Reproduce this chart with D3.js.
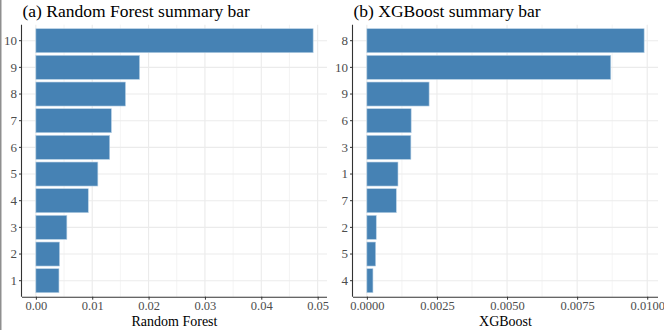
<!DOCTYPE html>
<html>
<head>
<meta charset="utf-8">
<script src="https://cdn.jsdelivr.net/npm/d3@7"></script>
<style>
  html, body { margin: 0; padding: 0; background: #fff; }
  svg { display: block; font-family: "Liberation Serif", "Times New Roman", serif; }
  .tick text { font-family: "Liberation Serif", "Times New Roman", serif; }
</style>
</head>
<body>
<svg id="chart" width="664" height="330"></svg>
<script>
// ---- Data ----
const rfCategories = ["10", "9", "8", "7", "6", "5", "4", "3", "2", "1"];
const rfValues = [0.0492, 0.0184, 0.0159, 0.0134, 0.0131, 0.0110, 0.0093, 0.0055, 0.0042, 0.0041];
const rfTicks = [0, 0.01, 0.02, 0.03, 0.04, 0.05];
const rfTickLabels = ["0.00", "0.01", "0.02", "0.03", "0.04", "0.05"];

const xgbCategories = ["8", "10", "9", "6", "3", "1", "7", "2", "5", "4"];
const xgbValues = [0.00989, 0.00870, 0.00222, 0.00158, 0.00157, 0.00111, 0.00105, 0.000335, 0.000313, 0.000217];
const xgbTicks = [0, 0.0025, 0.005, 0.0075, 0.01];
const xgbTickLabels = ["0.0000", "0.0025", "0.0050", "0.0075", "0.0100"];

const panels = [
  { title: "(a) Random Forest summary bar", axisTitle: "Random Forest",
    cats: rfCategories, vals: rfValues, ticks: rfTicks, tickLabels: rfTickLabels,
    x0: 22, x1: 327 },
  { title: "(b) XGBoost summary bar", axisTitle: "XGBoost",
    cats: xgbCategories, vals: xgbValues, ticks: xgbTicks, tickLabels: xgbTickLabels,
    x0: 353, x1: 658 }
];

const svg = d3.select("#chart");
const yTop = 24.7, yBot = 296.7;
const barColor = "#4682B4";
const serif = '"Liberation Serif", "Times New Roman", serif';

// left border line seen in reference
svg.append("rect").attr("x", 0).attr("y", 0).attr("width", 1.5).attr("height", 330).attr("fill", "#8f8f8f");

panels.forEach(p => {
  const g = svg.append("g");
  const maxV = d3.max(p.vals);
  const x = d3.scaleLinear().domain([-0.05 * maxV, 1.05 * maxV]).range([p.x0, p.x1]);
  const y = d3.scaleBand().domain(p.cats).range([yTop, yBot]).paddingInner(0.1).paddingOuter(0.15);

  // minor gridlines
  const minor = [];
  for (let i = 0; i < p.ticks.length - 1; i++) minor.push((p.ticks[i] + p.ticks[i + 1]) / 2);
  const dom = x.domain();
  g.selectAll(".minor").data(minor.filter(v => v >= dom[0] && v <= dom[1])).join("line")
    .attr("x1", d => x(d)).attr("x2", d => x(d))
    .attr("y1", yTop).attr("y2", yBot)
    .attr("stroke", "#ededed").attr("stroke-width", 0.6);
  // major vertical gridlines
  g.selectAll(".majorx").data(p.ticks).join("line")
    .attr("x1", d => x(d)).attr("x2", d => x(d))
    .attr("y1", yTop).attr("y2", yBot)
    .attr("stroke", "#ebebeb").attr("stroke-width", 1.1);
  // horizontal gridlines
  g.selectAll(".majory").data(p.cats).join("line")
    .attr("x1", p.x0).attr("x2", p.x1)
    .attr("y1", d => y(d) + y.bandwidth() / 2).attr("y2", d => y(d) + y.bandwidth() / 2)
    .attr("stroke", "#ebebeb").attr("stroke-width", 1.1);

  // bars
  g.selectAll(".bar").data(p.cats.map((c, i) => ({ c, v: p.vals[i] }))).join("rect")
    .attr("x", x(0))
    .attr("y", d => y(d.c))
    .attr("width", d => x(d.v) - x(0))
    .attr("height", y.bandwidth())
    .attr("fill", barColor)
    .attr("stroke", "#b7d0e4").attr("stroke-width", 0.6);

  // x axis
  const xAxis = d3.axisBottom(x).tickValues(p.ticks)
    .tickFormat((d, i) => p.tickLabels[i]).tickSizeOuter(0).tickSize(3).tickPadding(1.5);
  const xg = g.append("g").attr("transform", `translate(0,${yBot})`).call(xAxis)
    .attr("font-family", serif).attr("font-size", 12.5);
  xg.select(".domain").attr("d", `M${p.x0},0.5H${p.x1}`).attr("stroke", "#333").attr("stroke-width", 1.1);
  xg.selectAll(".tick line").attr("stroke", "#333");
  xg.selectAll(".tick text").attr("fill", "#4d4d4d")
    .style("font-size", "12.5px").style("font-family", serif);

  // y axis
  const yAxis = d3.axisLeft(y).tickSizeOuter(0).tickSize(3).tickPadding(2);
  const yg = g.append("g").attr("transform", `translate(${p.x0},0)`).call(yAxis)
    .attr("font-family", serif).attr("font-size", 13);
  yg.select(".domain").attr("d", `M-0.5,${yTop}V${yBot}`).attr("stroke", "#333").attr("stroke-width", 1.1);
  yg.selectAll(".tick line").attr("stroke", "#333");
  yg.selectAll(".tick text").attr("fill", "#4d4d4d")
    .style("font-size", "13px").style("font-family", serif);

  // titles
  svg.append("text").attr("x", p.x0 + 0.5).attr("y", 17)
    .style("font-family", serif).style("font-size", "17.5px").attr("fill", "#000").text(p.title);
  svg.append("text").attr("x", (p.x0 + p.x1) / 2).attr("y", 326)
    .attr("text-anchor", "middle")
    .style("font-family", serif).style("font-size", "14px").attr("fill", "#000").text(p.axisTitle);
});
</script>
</body>
</html>
